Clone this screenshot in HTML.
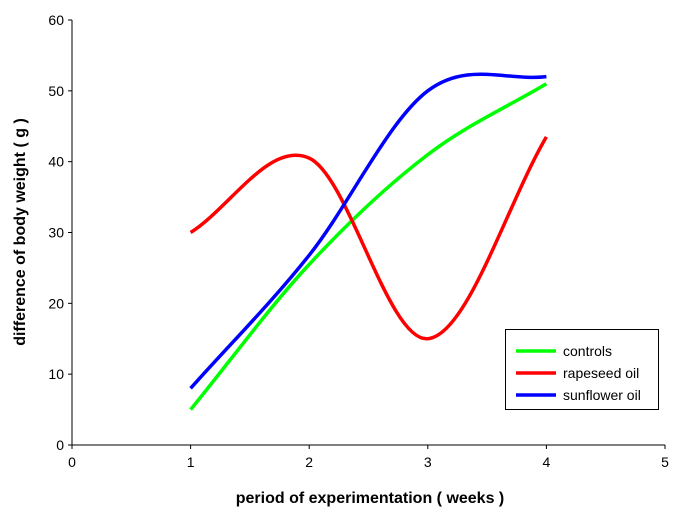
<!DOCTYPE html>
<html><head><meta charset="utf-8"><style>
body{margin:0;background:#fff;}
svg text{font-family:"Liberation Sans",Arial,sans-serif;}
</style></head><body>
<svg id="chart" width="680" height="517" xmlns="http://www.w3.org/2000/svg">
<g id="axes"></g><g id="series"></g>
<text x="370" y="503" text-anchor="middle" font-size="16" font-weight="bold">period of experimentation ( weeks )</text>
<text transform="translate(25,232) rotate(-90)" text-anchor="middle" font-size="16" font-weight="bold">difference of body weight ( g )</text>
<g>
<rect x="505.5" y="329.5" width="153" height="80" fill="#fff" stroke="#000"/>
<g id="legend-items"></g>
</g>
</svg>
<script>
const weeks=[1,2,3,4];
const controls=[5,25.5,41,51];
const rapeseed=[30,40.5,15,43.5];
const sunflower=[8,26.8,50,52];
const seriesNames=["controls","rapeseed oil","sunflower oil"];
const seriesColors=["#00ff00","#ff0000","#0000ff"];
const xTicks=[0,1,2,3,4,5];
const yTicks=[0,10,20,30,40,50,60];
const NS="http://www.w3.org/2000/svg";
const X0=72,X1=665,Y0=445,Y1=20;
const xs=v=>X0+(X1-X0)*v/5, ys=v=>Y0-(Y0-Y1)*v/60;
function mk(t,a,p){const e=document.createElementNS(NS,t);for(const k in a)e.setAttribute(k,a[k]);p.appendChild(e);return e;}
const ax=document.getElementById('axes');
let l=mk('line',{x1:X0,y1:Y0,x2:X1,y2:Y0,stroke:'#000'},ax);


l=mk('line',{x1:X0,y1:Y0,x2:X0,y2:Y1,stroke:'#000'},ax);


xTicks.forEach(v=>{
 mk('line',{x1:xs(v),y1:Y0,x2:xs(v),y2:Y0+4,stroke:'#000'},ax);
 const t=mk('text',{x:xs(v),y:Y0+22,'text-anchor':'middle','font-size':14},ax);t.textContent=v;
 
 
});
yTicks.forEach(v=>{
 mk('line',{x1:X0-4,y1:ys(v),x2:X0,y2:ys(v),stroke:'#000'},ax);
 const t=mk('text',{x:X0-8,y:ys(v)+5,'text-anchor':'end','font-size':14},ax);t.textContent=v;
 
 
});
const sg=document.getElementById('series');
[controls,rapeseed,sunflower].forEach((vals,si)=>{
 const p=weeks.map((w,i)=>[xs(w),ys(vals[i])]);
 const n=p.length;
 const get=i=>{
  if(i<0) return [2*p[0][0]-p[1][0],2*p[0][1]-p[1][1]];
  if(i>=n) return [2*p[n-1][0]-p[n-2][0],2*p[n-1][1]-p[n-2][1]];
  return p[i];
 };
 let d=`M${p[0][0]},${p[0][1]}`;
 for(let i=0;i<n-1;i++){
  const a=get(i-1),b=p[i],c=p[i+1],e=get(i+2);
  const c1=[b[0]+(c[0]-a[0])/6,b[1]+(c[1]-a[1])/6],c2=[c[0]-(e[0]-b[0])/6,c[1]-(e[1]-b[1])/6];
  d+=` C${c1[0]},${c1[1]} ${c2[0]},${c2[1]} ${c[0]},${c[1]}`;
 }
 const path=mk('path',{d:d,fill:'none',stroke:seriesColors[si],'stroke-width':3.5},sg);
 
 
});
const lg=document.getElementById('legend-items');
seriesNames.forEach((n,i)=>{
 const y=351+i*22;
 const g=mk('g',{},lg);
 
 
 mk('line',{x1:516,y1:y,x2:556,y2:y,stroke:seriesColors[i],'stroke-width':3.5},g);
 const t=mk('text',{x:563,y:y+5,'font-size':14},g);t.textContent=n;
});
</script>
</body></html>
